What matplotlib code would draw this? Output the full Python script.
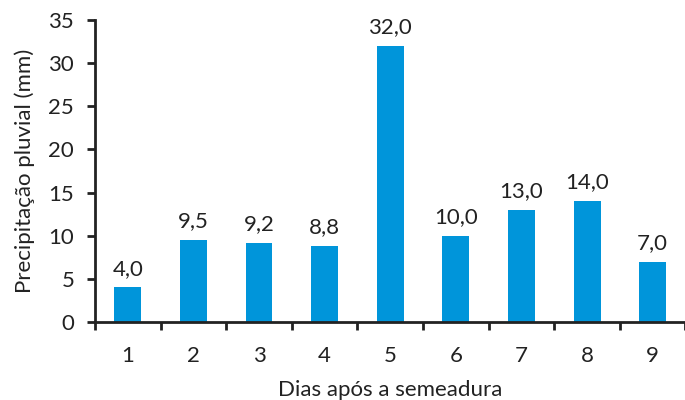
import matplotlib
matplotlib.use("Agg")
import matplotlib.pyplot as plt
from matplotlib.ticker import FixedLocator

dias = ["1", "2", "3", "4", "5", "6", "7", "8", "9"]
precipitacao = [4.0, 9.5, 9.2, 8.8, 32.0, 10.0, 13.0, 14.0, 7.0]
y_ticks = [0, 5, 10, 15, 20, 25, 30, 35]

plt.rcParams['font.family'] = ['Lato', 'DejaVu Sans']
FS = 16
INK = "#222222"

fig = plt.figure(figsize=(6.85, 4.0), dpi=100)
ax = fig.add_axes([0.1387, 0.195, 0.862, 0.755])

pos = list(range(1, len(dias) + 1))
ax.bar(pos, precipitacao, width=0.41, color="#0095DA", zorder=2)

for p, v in zip(pos, precipitacao):
    ax.text(p, v + 1.0, f"{v:.1f}".replace(".", ","), ha="center", va="bottom",
            fontsize=FS, color=INK)

ax.set_xlim(0.5, len(dias) + 0.5)
ax.set_ylim(0, 35)
ax.set_yticks(y_ticks)
ax.set_yticklabels([str(t) for t in y_ticks])

# category labels centred, tick marks between categories
ax.set_xticks(pos)
ax.set_xticklabels(dias)
ax.xaxis.set_minor_locator(FixedLocator([p - 0.5 for p in pos] + [len(dias) + 0.5]))
ax.tick_params(axis="x", which="major", length=0, pad=17, labelsize=FS, colors=INK)
ax.tick_params(axis="x", which="minor", length=6, width=2, direction="out", color=INK)
ax.tick_params(axis="y", length=6, width=2, direction="out", pad=9, labelsize=FS,
               colors=INK)

for side in ("top", "right"):
    ax.spines[side].set_visible(False)
for side in ("left", "bottom"):
    ax.spines[side].set_linewidth(2)
    ax.spines[side].set_color(INK)

ax.set_xlabel("Dias após a semeadura", fontsize=FS, color=INK, labelpad=10)
ax.set_ylabel("Precipitação pluvial (mm)", fontsize=FS, color=INK, labelpad=10)

fig.savefig("out.png", dpi=100)
